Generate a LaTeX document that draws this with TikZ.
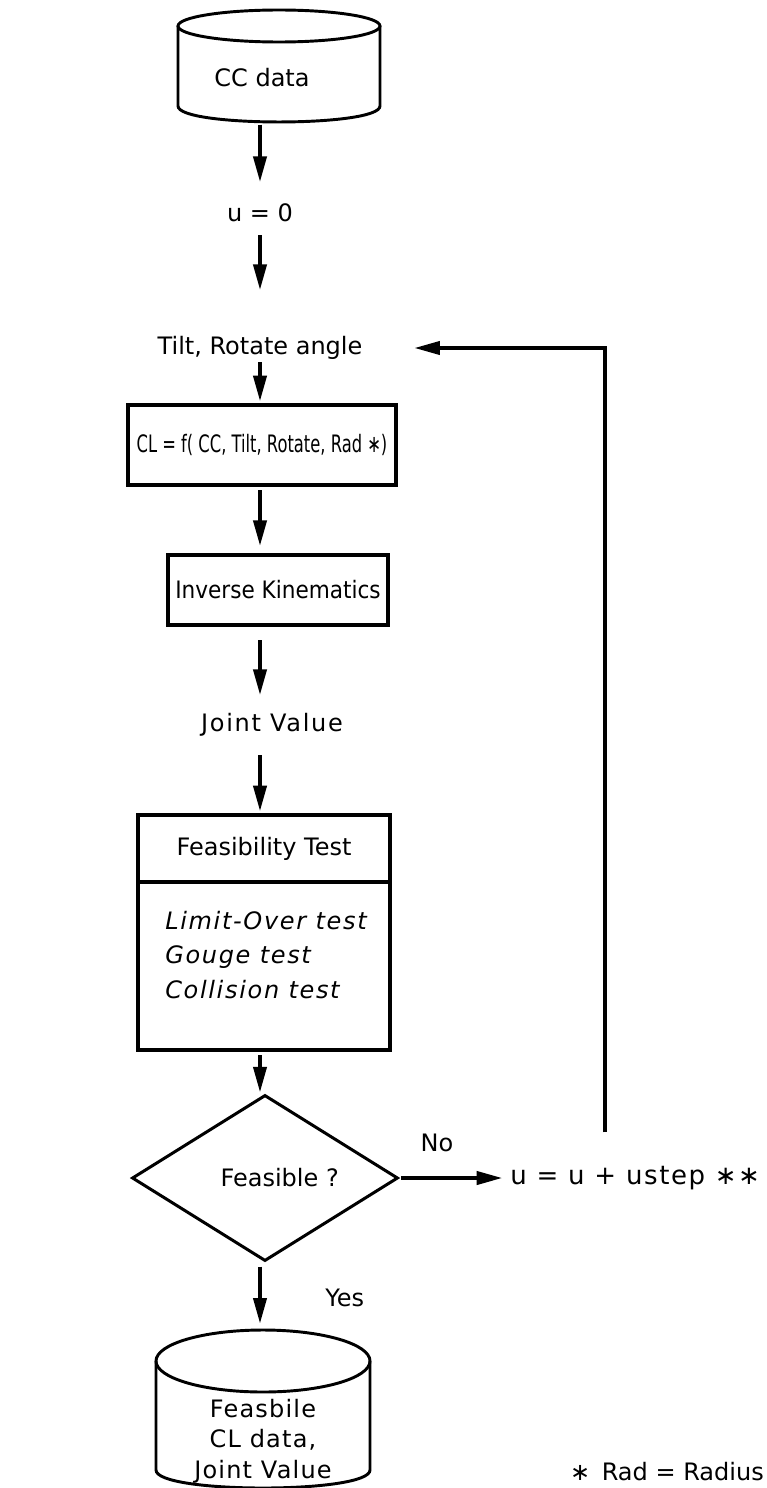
\documentclass[tikz,border=0pt]{standalone}
\usepackage{fontspec}
\setmainfont{DejaVu Sans}
\usetikzlibrary{arrows.meta,shapes.geometric}
\begin{document}
\begin{tikzpicture}[x=0.75pt,y=-0.75pt,
  every node/.style={font=\fontsize{18}{25}\selectfont},
  txt/.style={inner sep=0pt, text height=14pt, text depth=4pt},
  box/.style={draw, line width=3.5pt, inner sep=0pt, outer sep=0pt, align=center},
  arr/.style={line width=2.3pt, -{Triangle[length=19pt,width=10pt]}},
  cyl/.style={line width=2.2pt},
]
\useasboundingbox (0,0) rectangle (767,1488);
\coordinate (ax) at (260,0);
\coordinate (rx) at (605,0);

% CC data cylinder
\draw[cyl] (279,26) ellipse [x radius=101, y radius=16];
\draw[cyl] (178,26) -- (178,106) .. controls (178,127.3) and (380,127.3) .. (380,106) -- (380,26);
\node[txt] (cc) at (262,80) {CC data};
\coordinate (ccb) at (260,122);

\node[txt] (u0) at (260,215) {u = 0};
\node[txt] (tilt) at (260,348) {Tilt, Rotate angle};
\node[box, minimum width=201pt, minimum height=60pt] (cl) at (262,445) {\scalebox{0.68}[1]{CL = f( CC, Tilt, Rotate, Rad ∗)}};
\node[box, minimum width=165pt, minimum height=52.5pt] (ik) at (278,590) {\scalebox{0.9}[1]{Inverse Kinematics}};
\node[txt, font=\fontsize{18}{25}\selectfont\addfontfeature{LetterSpace=7}] (jv) at (272,725) {Joint Value};
\node[box, minimum width=189pt, minimum height=50.25pt] (fh) at (264,848.5) {Feasibility Test};
\node[box, anchor=north, minimum width=189pt, minimum height=126pt] (fb) at (fh.south) {};
\node[anchor=west, inner sep=0pt, align=left, font=\fontsize{18}{26}\selectfont\itshape\addfontfeature{LetterSpace=7}] (fbt) at (165,955) {Limit-Over test\\Gouge test\\Collision test};
\node[diamond, draw, line width=2.25pt, minimum width=199.5pt, minimum height=124pt, inner sep=0pt] (feas) at (265,1178) {\hspace*{22pt}Feasible ?};
\node[txt, anchor=west, font=\fontsize{19.5}{25}\selectfont\addfontfeature{LetterSpace=6}] (uu) at (510,1178) {u = u + ustep ∗∗};
\node[txt] (no) at (437,1145) {No};
\node[txt, anchor=west] (yes) at (325,1300) {Yes};

% bottom cylinder
\draw[cyl] (263,1361) ellipse [x radius=107, y radius=31];
\draw[cyl] (156,1361) -- (156,1470) .. controls (156,1494) and (370,1494) .. (370,1470) -- (370,1361);
\node[inner sep=0pt, align=center, font=\fontsize{18}{23}\selectfont\addfontfeature{LetterSpace=5}] (db) at (263,1441) {Feasbile\\CL data,\\Joint Value};
\coordinate (dbt) at (260,1330);

\node[txt, anchor=east] (note) at (764,1474) {∗ \,Rad = Radius};

% connectors
\draw[arr, shorten <=2pt, shorten >=15.75pt] (ccb) -- (u0.north);
\draw[arr, shorten <=6pt, shorten >=34.5pt] (u0.south) -- (tilt.north);
\draw[arr, shorten <=1.5pt, shorten >=3pt] (tilt.south) -- (cl.north -| ax);
\draw[arr, shorten <=4pt, shorten >=7pt] (cl.south -| ax) -- (ik.north -| ax);
\draw[arr, shorten <=11.25pt, shorten >=13.5pt] (ik.south -| ax) -- (jv.north -| ax);
\draw[arr, shorten <=13.5pt, shorten >=3pt] (jv.south -| ax) -- (fh.north -| ax);
\draw[arr, shorten <=4pt, shorten >=1pt] (fb.south -| ax) -- (feas.north -| ax);
\draw[arr, shorten <=1pt, shorten >=6pt] (feas.east) -- (uu.west);
\draw[arr, shorten <=3pt, shorten >=5pt] (feas.south -| ax) -- (dbt);
\draw[arr, shorten <=25pt, shorten >=39pt] (uu.north -| rx) -- (tilt.east -| rx) -- (tilt.east);
\end{tikzpicture}
\end{document}
